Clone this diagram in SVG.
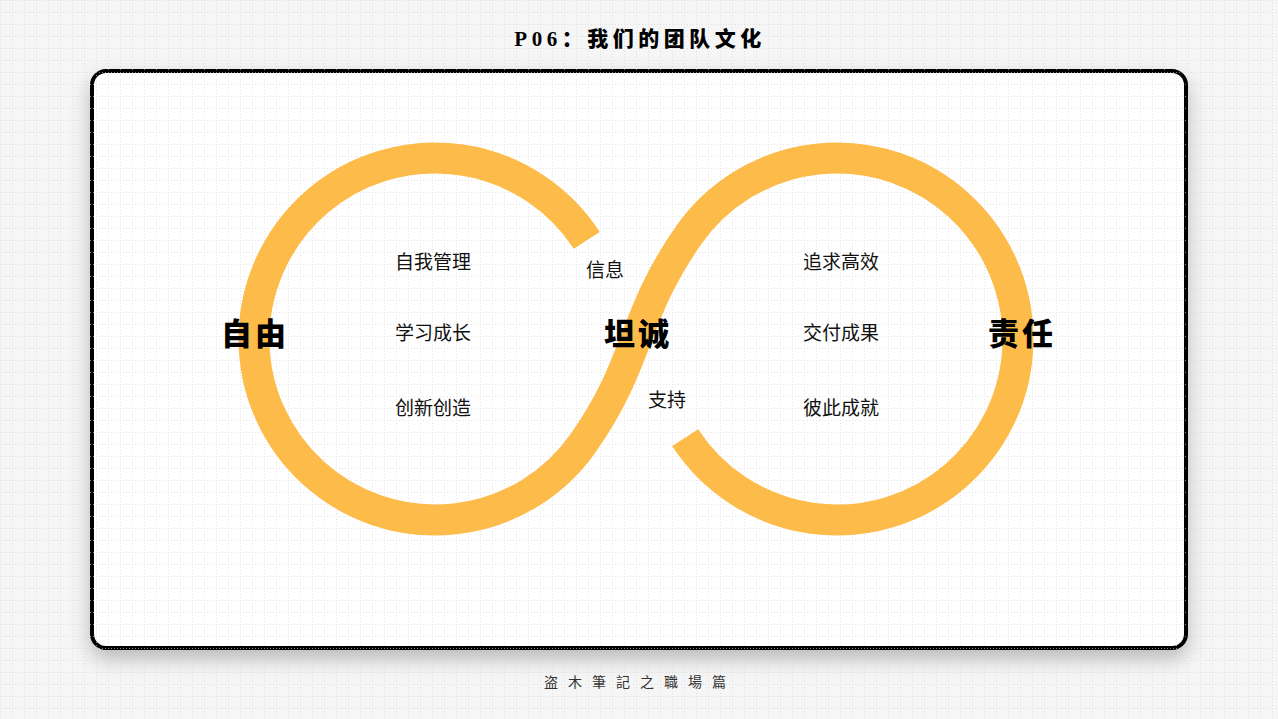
<svg xmlns="http://www.w3.org/2000/svg" width="1278" height="719" viewBox="0 0 1278 719">
  <defs>
    <pattern id="grid" width="12" height="12" patternUnits="userSpaceOnUse">
      <line x1="0" y1="0.5" x2="12" y2="0.5" stroke="#d2d2d2" stroke-width="1" stroke-dasharray="1 2"/>
      <line x1="0.5" y1="0" x2="0.5" y2="12" stroke="#d2d2d2" stroke-width="1" stroke-dasharray="1 2"/>
    </pattern>
    <filter id="shadow" x="-10%" y="-10%" width="120%" height="135%">
      <feDropShadow dx="0" dy="9" stdDeviation="10" flood-color="#000" flood-opacity="0.25"/>
    </filter>
    <style>
      .title { font-family: "Liberation Serif", "Noto Sans CJK SC", serif; font-weight: 900; font-size: 21px; fill: #000; letter-spacing: 4.5px; text-anchor: middle; }
      .big { font-family: "Noto Sans CJK SC", sans-serif; font-weight: 900; font-size: 31px; fill: #000; letter-spacing: 3px; text-anchor: middle; }
      .item { font-family: "Noto Sans CJK SC", sans-serif; font-weight: 400; font-size: 19px; fill: #111; text-anchor: middle; }
      .footer { font-family: "Noto Sans CJK SC", sans-serif; font-size: 14px; fill: #333; letter-spacing: 10px; text-anchor: middle; }
      .band { fill: none; stroke: #FDBB4A; stroke-width: 31; stroke-linecap: butt; stroke-linejoin: round; }
    </style>
  </defs>

  <rect x="0" y="0" width="1278" height="719" fill="#f6f6f6"/>

  <g id="card">
    <rect x="92" y="71" width="1094" height="577" rx="14" ry="14" fill="#ffffff" stroke="#000" stroke-width="4" filter="url(#shadow)"/>
  </g>

  <rect x="0" y="0" width="1278" height="719" fill="url(#grid)" opacity="0.6"/>

  <g id="title">
    <text class="title" x="640" y="46">P06：我们的团队文化</text>
  </g>

  <g id="connectors">
    <path id="infinity-band" class="band" d="M 586.8 240.4 A 181 181 0 1 0 583.3 442.8 C 640.7 360.9 631.3 317.1 688.7 235.2 A 181 181 0 1 1 685.2 437.6"/>
  </g>

  <g id="node-ziyou"><text class="big" x="255" y="345">自由</text></g>
  <g id="node-tancheng"><text class="big" x="638" y="345">坦诚</text></g>
  <g id="node-zeren"><text class="big" x="1022" y="345">责任</text></g>

  <g id="node-ziwoguanli"><text class="item" x="433" y="269">自我管理</text></g>
  <g id="node-xuexichengzhang"><text class="item" x="433" y="340">学习成长</text></g>
  <g id="node-chuangxinchuangzao"><text class="item" x="433" y="415">创新创造</text></g>

  <g id="node-xinxi"><text class="item" x="605" y="277">信息</text></g>
  <g id="node-zhichi"><text class="item" x="667" y="407">支持</text></g>

  <g id="node-zhuiqiugaoxiao"><text class="item" x="841" y="269">追求高效</text></g>
  <g id="node-jiaofuchengguo"><text class="item" x="841" y="340">交付成果</text></g>
  <g id="node-bicichengjiu"><text class="item" x="841" y="415">彼此成就</text></g>

  <g id="footer">
    <text class="footer" x="640" y="687">盗木筆記之職場篇</text>
  </g>
</svg>
